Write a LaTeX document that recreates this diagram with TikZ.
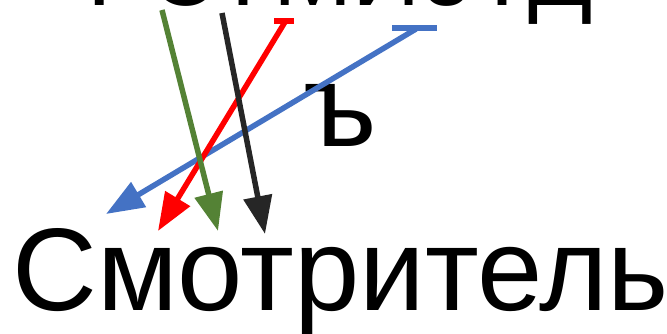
\documentclass[tikz,border=0pt]{standalone}
\usepackage{fontspec}
\setmainfont{Liberation Sans}
\usetikzlibrary{arrows.meta}
\definecolor{cblue}{HTML}{4472C4}
\definecolor{cgreen}{HTML}{548235}
\definecolor{cred}{HTML}{FF0000}
\definecolor{cdark}{HTML}{262626}
\begin{document}
\begin{tikzpicture}[x=1pt,y=-1pt,
  conn/.style={line width=5.5pt, -{Triangle[length=38pt,width=28pt]}},
  capbar/.style={line width=5.5pt},
  bigtext/.style={inner sep=0pt, anchor=base west, font=\fontsize{117.5}{130}\selectfont},
  toptext/.style={inner sep=0pt, anchor=base west, font=\fontsize{95}{100}\selectfont}]
\useasboundingbox (0,0) rectangle (667,334);
\clip (0,0) rectangle (667,334);
\node[toptext] (topword) at (87,6) {РСТМИоТД};
\node[bigtext] (hard) at (303,147) {ъ};
\node[bigtext] (bottom) at (12,310) {Смотритель};
\coordinate (b0) at (416,29);
\coordinate (b1) at (106,214);
\coordinate (bl) at (392,28);
\coordinate (br) at (437,28);
\coordinate (r0) at (285,22);
\coordinate (r1) at (158,231);
\coordinate (rl) at (274,21);
\coordinate (rr) at (294,21);
\coordinate (g0) at (162,10);
\coordinate (g1) at (218,231);
\coordinate (k0) at (222,13);
\coordinate (k1) at (265,234);
\draw[capbar, cblue] (bl) -- (br);
\draw[conn, cblue] (b0) -- (b1);
\draw[capbar, cred] (rl) -- (rr);
\draw[conn, cred] (r0) -- (r1);
\draw[conn, cgreen] (g0) -- (g1);
\draw[conn, cdark] (k0) -- (k1);
\end{tikzpicture}
\end{document}
